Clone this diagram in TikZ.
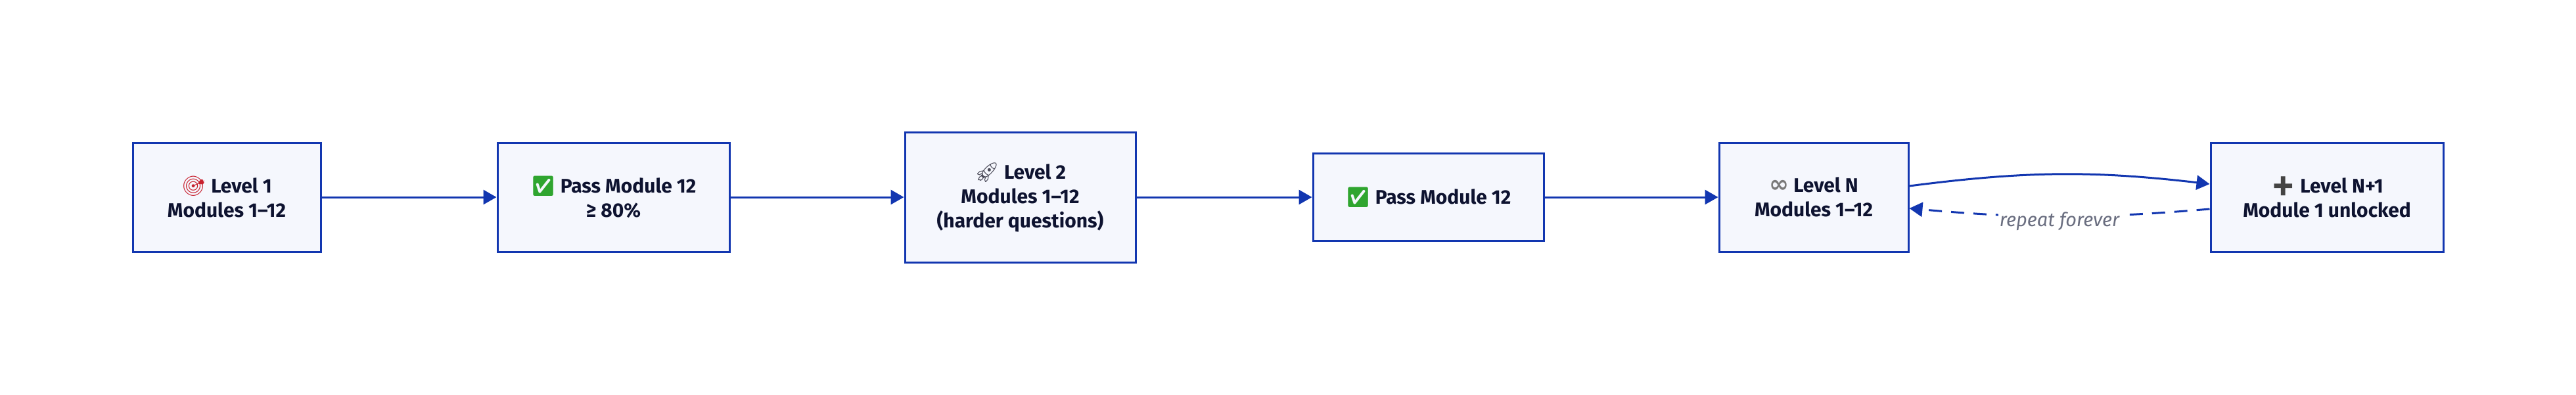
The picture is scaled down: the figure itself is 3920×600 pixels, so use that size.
\documentclass[tikz,border=0pt]{standalone}
\usepackage{fontspec}
\setmainfont{Fira Sans}
\newfontfamily\emojifont{Noto Emoji}
\newfontfamily\symfont{DejaVu Sans}
\usetikzlibrary{arrows.meta}
\definecolor{edgeblue}{HTML}{1236B0}
\definecolor{boxfill}{HTML}{F5F7FD}
\definecolor{ink}{HTML}{0E1330}
\definecolor{lblgray}{HTML}{6A6E80}
\definecolor{emred}{HTML}{C8202E}
\definecolor{emgreen}{HTML}{2FA52F}
\definecolor{emgray}{HTML}{4A4A58}
\definecolor{eminf}{HTML}{7A7A7A}
\definecolor{emdark}{HTML}{444444}
\newcommand{\emo}[2]{{\emojifont\textcolor{#1}{#2}}}
\begin{document}
\begin{tikzpicture}[x=0.5pt,y=-0.5pt,
  stepbox/.style={draw=edgeblue, fill=boxfill, line width=1.5pt, align=center,
    inner sep=0pt, text=ink, font=\bfseries\fontsize{15}{18.5}\selectfont},
  flow/.style={draw=edgeblue, line width=1.5pt, -{Triangle[length=10pt,width=11pt]}},
  backflow/.style={flow, dash pattern=on 10pt off 7pt},
  flowlabel/.style={fill=white, inner sep=1pt, text=lblgray,
    font=\itshape\fontsize{14.5}{16}\selectfont}]
\useasboundingbox (0,0) rectangle (3920,600);
\node[stepbox, minimum width=143pt, minimum height=83pt] (l1) at (345,300)
  {\emo{emred}{🎯}\ Level 1\\Modules 1–12};
\node[stepbox, minimum width=176.5pt, minimum height=83pt] (p1) at (933.5,300)
  {\emo{emgreen}{✅}\ Pass Module 12\\≥ 80\%};
\node[stepbox, minimum width=175.5pt, minimum height=99pt] (l2) at (1552.5,300)
  {\emo{emgray}{🚀}\ Level 2\\Modules 1–12\\(harder questions)};
\node[stepbox, minimum width=175.5pt, minimum height=66.5pt] (p2) at (2173.5,300)
  {\emo{emgreen}{✅}\ Pass Module 12};
\node[stepbox, minimum width=144pt, minimum height=83pt] (ln) at (2760,300)
  {{\symfont\bfseries\fontsize{18}{18.5}\selectfont\textcolor{eminf}{∞}}\ Level N\\Modules 1–12};
\node[stepbox, minimum width=177pt, minimum height=83pt] (ln1) at (3541,300)
  {\emo{emdark}{➕}\ Level N+1\\Module 1 unlocked};
\draw[flow] (l1.east) -- (p1.west);
\draw[flow] (p1.east) -- (l2.west);
\draw[flow] (l2.east) -- (p2.west);
\draw[flow] (p2.east) -- (ln.west);
\draw[flow] ([yshift=8.5pt]ln.east) to[bend left=7] ([yshift=10pt]ln1.west);
\draw[backflow] ([yshift=-9pt]ln1.west) to[bend left=5]
  node[flowlabel, yshift=-4pt] (rep) {repeat forever} ([yshift=-8.5pt]ln.east);
\end{tikzpicture}
\end{document}
